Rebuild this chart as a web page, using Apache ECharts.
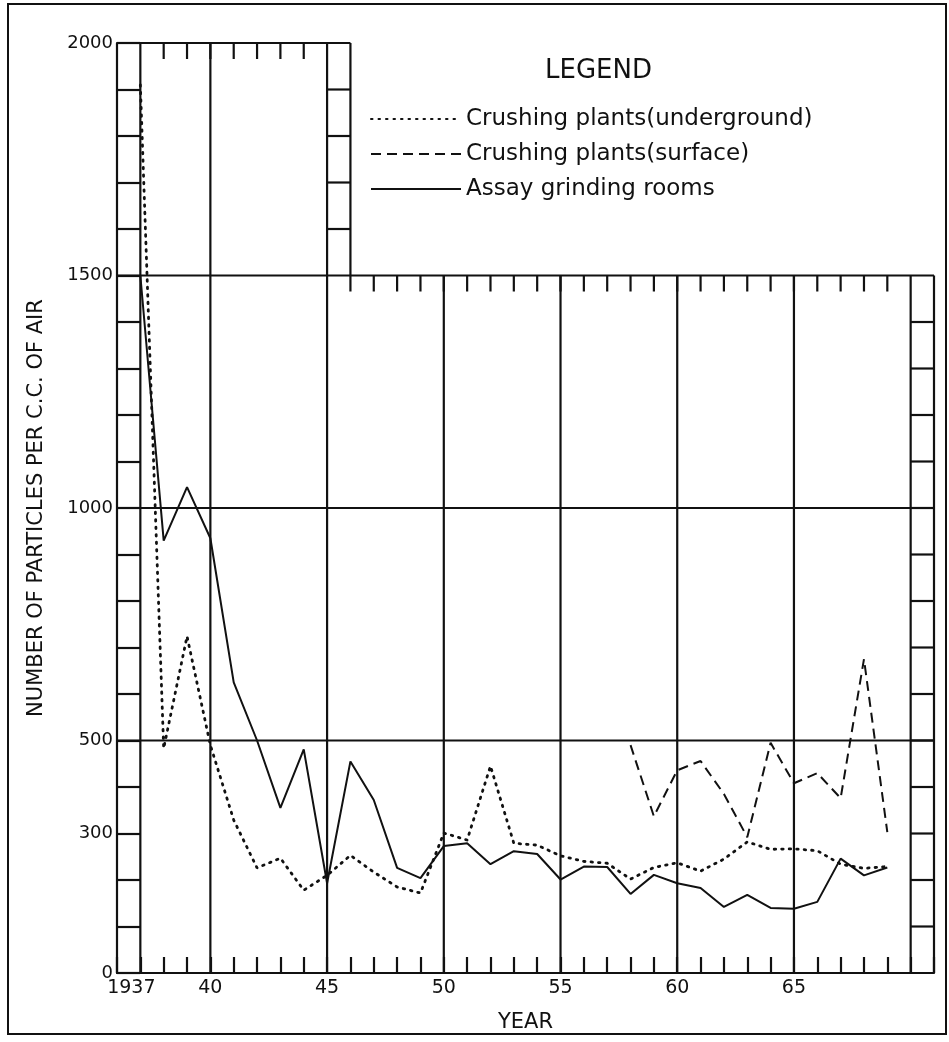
<!DOCTYPE html>
<html>
<head>
<meta charset="utf-8">
<script src="https://cdn.jsdelivr.net/npm/echarts@6/dist/echarts.min.js"></script>
<style>
html, body { margin: 0; padding: 0; background: #fff; }
#chart { width: 949px; height: 1042px; }
</style>
</head>
<body>
<div id="chart"></div>
<script>
// survey years
const years = [1937, 1938, 1939, 1940, 1941, 1942, 1943, 1944, 1945, 1946, 1947,
  1948, 1949, 1950, 1951, 1952, 1953, 1954, 1955, 1956, 1957, 1958,
  1959, 1960, 1961, 1962, 1963, 1964, 1965, 1966, 1967, 1968, 1969]

// particles per c.c. of air
const underground = [1910, 483, 724, 490, 329, 226, 247, 178, 210, 253, 217,
  185, 172, 301, 286, 445, 279, 275, 252, 240, 236, 202,
  227, 237, 219, 245, 282, 266, 267, 263, 234, 225, 229]
const surface = [null, null, null, null, null, null, null, null, null, null, null,
  null, null, null, null, null, null, null, null, null, null, 490,
  337, 436, 456, 385, 292, 495, 408, 430, 376, 675, 303]
const assay = [1500, 930, 1045, 935, 625, 500, 355, 481, 193, 455, 372,
  226, 204, 273, 279, 234, 262, 256, 201, 229, 228, 170,
  211, 193, 183, 142, 168, 140, 138, 153, 246, 210, 227]

const seriesNames = ['Crushing plants(underground)', 'Crushing plants(surface)', 'Assay grinding rooms']
const xLabels = { 1940: '40', 1945: '45', 1950: '50', 1955: '55', 1960: '60', 1965: '65' }
const yLabels = [0, 300, 500, 1000, 1500, 2000]

const FONT = 'DejaVu Sans'
const INK = '#111'
const FRAME_W = 2.2

const pairs = vals => years.map((y, i) => [y, vals[i]])

// frame of the graph paper: upper box stops at 1946, lower box runs to the right ruler
const frame = []
;[1937, 1940, 1945].forEach(x => frame.push([x, 0, x, 2000]))
;[1950, 1955, 1960, 1965, 1970, 1971].forEach(x => frame.push([x, 0, x, 1500]))
frame.push([1946, 1500, 1946, 2000])
frame.push([1936, 2000, 1946, 2000])
;[500, 1000, 1500].forEach(v => frame.push([1936, v, 1971, v]))
// ruler rungs every 100 in the middle and right strips
for (let v = 1600; v < 2000; v += 100) frame.push([1945, v, 1946, v])
for (let v = 100; v < 1500; v += 100) frame.push([1970, v, 1971, v])

// short ticks hanging from the top edges
const topTicks = []
for (let y = 1938; y <= 1944; y++) topTicks.push([y, 2000])
for (let y = 1946; y <= 1969; y++) topTicks.push([y, 1500])

const chart = echarts.init(document.getElementById('chart'))

const labelFont = { fontFamily: FONT, fontSize: 19, color: INK }

chart.setOption({
  animation: false,
  backgroundColor: '#fff',
  title: {
    text: 'LEGEND',
    left: 540,
    top: 53,
    textStyle: { fontFamily: FONT, fontSize: 26, fontWeight: 'normal', color: INK }
  },
  legend: {
    data: seriesNames,
    orient: 'vertical',
    left: 365,
    top: 101,
    itemWidth: 90,
    itemHeight: 14,
    itemGap: 9,
    itemStyle: { opacity: 0 },
    textStyle: { fontFamily: FONT, fontSize: 23, color: INK, lineHeight: 26 }
  },
  graphic: [{
    type: 'rect',
    shape: { x: 8, y: 4, width: 938, height: 1030 },
    style: { fill: 'none', stroke: INK, lineWidth: 2 },
    silent: true
  }],
  grid: { left: 117, right: 15, top: 43, bottom: 69 },
  xAxis: {
    type: 'value',
    min: 1936,
    max: 1971,
    interval: 1,
    name: 'YEAR',
    nameLocation: 'middle',
    nameGap: 39,
    nameTextStyle: { fontFamily: FONT, fontSize: 21, color: INK },
    axisLine: { lineStyle: { color: INK, width: FRAME_W } },
    axisTick: { inside: true, length: 16, lineStyle: { color: INK, width: FRAME_W } },
    axisLabel: Object.assign({
      margin: 6,
      formatter: v => (v === 1937 ? '{first|1937}' : xLabels[v] || ''),
      rich: { first: Object.assign({ padding: [0, 18, 0, 0] }, labelFont) }
    }, labelFont),
    splitLine: { show: false }
  },
  yAxis: {
    type: 'value',
    min: 0,
    max: 2000,
    interval: 100,
    name: 'NUMBER OF PARTICLES PER C.C. OF AIR',
    nameLocation: 'middle',
    nameGap: 70,
    nameTextStyle: { fontFamily: FONT, fontSize: 21, color: INK },
    axisLine: { lineStyle: { color: INK, width: FRAME_W } },
    axisTick: { inside: true, length: 23, lineStyle: { color: INK, width: FRAME_W } },
    axisLabel: {
      margin: 4,
      fontFamily: FONT,
      fontSize: 18,
      color: INK,
      formatter: v => (yLabels.includes(v) ? String(v) : '')
    },
    splitLine: { show: false }
  },
  series: [
    {
      type: 'custom',
      silent: true,
      z: 1,
      data: frame,
      encode: { x: [0, 2], y: [1, 3] },
      renderItem: (params, api) => {
        const a = api.coord([api.value(0), api.value(1)])
        const b = api.coord([api.value(2), api.value(3)])
        return {
          type: 'line',
          shape: { x1: a[0], y1: a[1], x2: b[0], y2: b[1] },
          style: { stroke: INK, lineWidth: FRAME_W }
        }
      }
    },
    {
      type: 'custom',
      silent: true,
      z: 1,
      data: topTicks,
      renderItem: (params, api) => {
        const p = api.coord([api.value(0), api.value(1)])
        return {
          type: 'line',
          shape: { x1: p[0], y1: p[1], x2: p[0], y2: p[1] + 16 },
          style: { stroke: INK, lineWidth: FRAME_W }
        }
      }
    },
    {
      name: seriesNames[0],
      type: 'line',
      z: 3,
      symbol: 'none',
      data: pairs(underground),
      lineStyle: { color: INK, width: 2.8, type: [1.5, 6], cap: 'round' },
      itemStyle: { color: INK }
    },
    {
      name: seriesNames[1],
      type: 'line',
      z: 3,
      symbol: 'none',
      connectNulls: false,
      data: pairs(surface),
      lineStyle: { color: INK, width: 2, type: [10, 6] },
      itemStyle: { color: INK }
    },
    {
      name: seriesNames[2],
      type: 'line',
      z: 3,
      symbol: 'none',
      data: pairs(assay),
      lineStyle: { color: INK, width: 2, type: 'solid' },
      itemStyle: { color: INK }
    }
  ]
})
</script>
</body>
</html>
